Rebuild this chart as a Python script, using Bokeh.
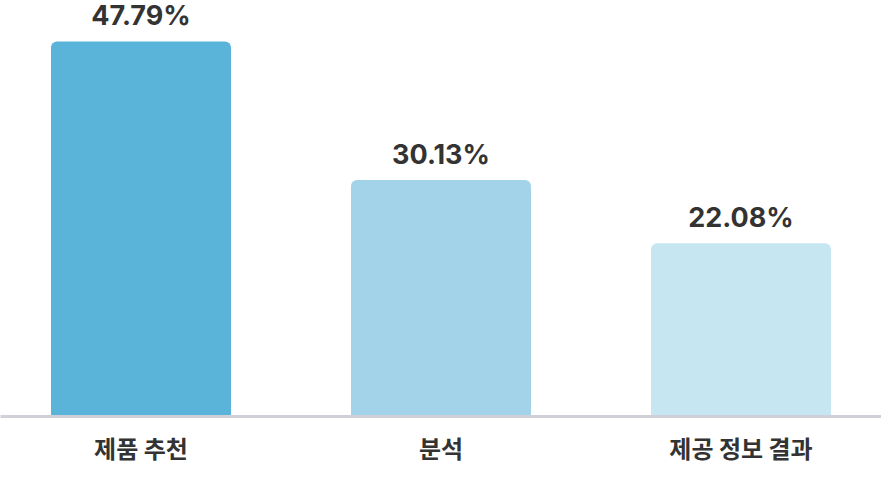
from bokeh.plotting import figure
from bokeh.models import ColumnDataSource, FactorRange, Range1d
from bokeh.core.properties import value
from bokeh.embed import file_html
from bokeh.resources import INLINE

categories = ["제품 추천", "분석", "제공 정보 결과"]
shares = [47.79, 30.13, 22.08]
labels = ["47.79%", "30.13%", "22.08%"]
colors = ["#5ab4d9", "#a3d3e8", "#c6e6f2"]

source = ColumnDataSource(data=dict(cat=categories, val=shares, lab=labels, color=colors))

p = figure(
    width=881, height=496,
    x_range=FactorRange(*categories, range_padding=-0.0317, range_padding_units="absolute"),
    y_range=Range1d(0, 53.01),
    output_backend="svg", toolbar_location=None,
    min_border_left=0, min_border_right=0, min_border_top=0, min_border_bottom=80,
)
p.outline_line_color = None
p.background_fill_color = "white"
p.border_fill_color = "white"
p.xgrid.visible = False
p.ygrid.visible = False
p.yaxis.visible = False

p.vbar(x="cat", top="val", width=0.6, bottom=0, color="color", line_color=None,
       border_radius=(6, 6, 0, 0), source=source)

p.text(x="cat", y="val", text="lab", source=source, y_offset=-26,
       text_align="center", text_baseline="alphabetic",
       text_font=value("Inter"), text_font_style="bold", text_font_size="27px",
       text_color="#333333")

xa = p.xaxis[0]
xa.axis_line_color = "#d0d1d8"
xa.axis_line_width = 3
xa.major_tick_line_color = None
xa.minor_tick_line_color = None
xa.major_tick_out = 0
xa.major_tick_in = 0
xa.major_label_standoff = 13
xa.major_label_text_font = "Noto Sans CJK KR"
xa.major_label_text_font_style = "bold"
xa.major_label_text_font_size = "24px"
xa.major_label_text_color = "#333333"

open("out.html", "w").write(file_html(p, INLINE))
